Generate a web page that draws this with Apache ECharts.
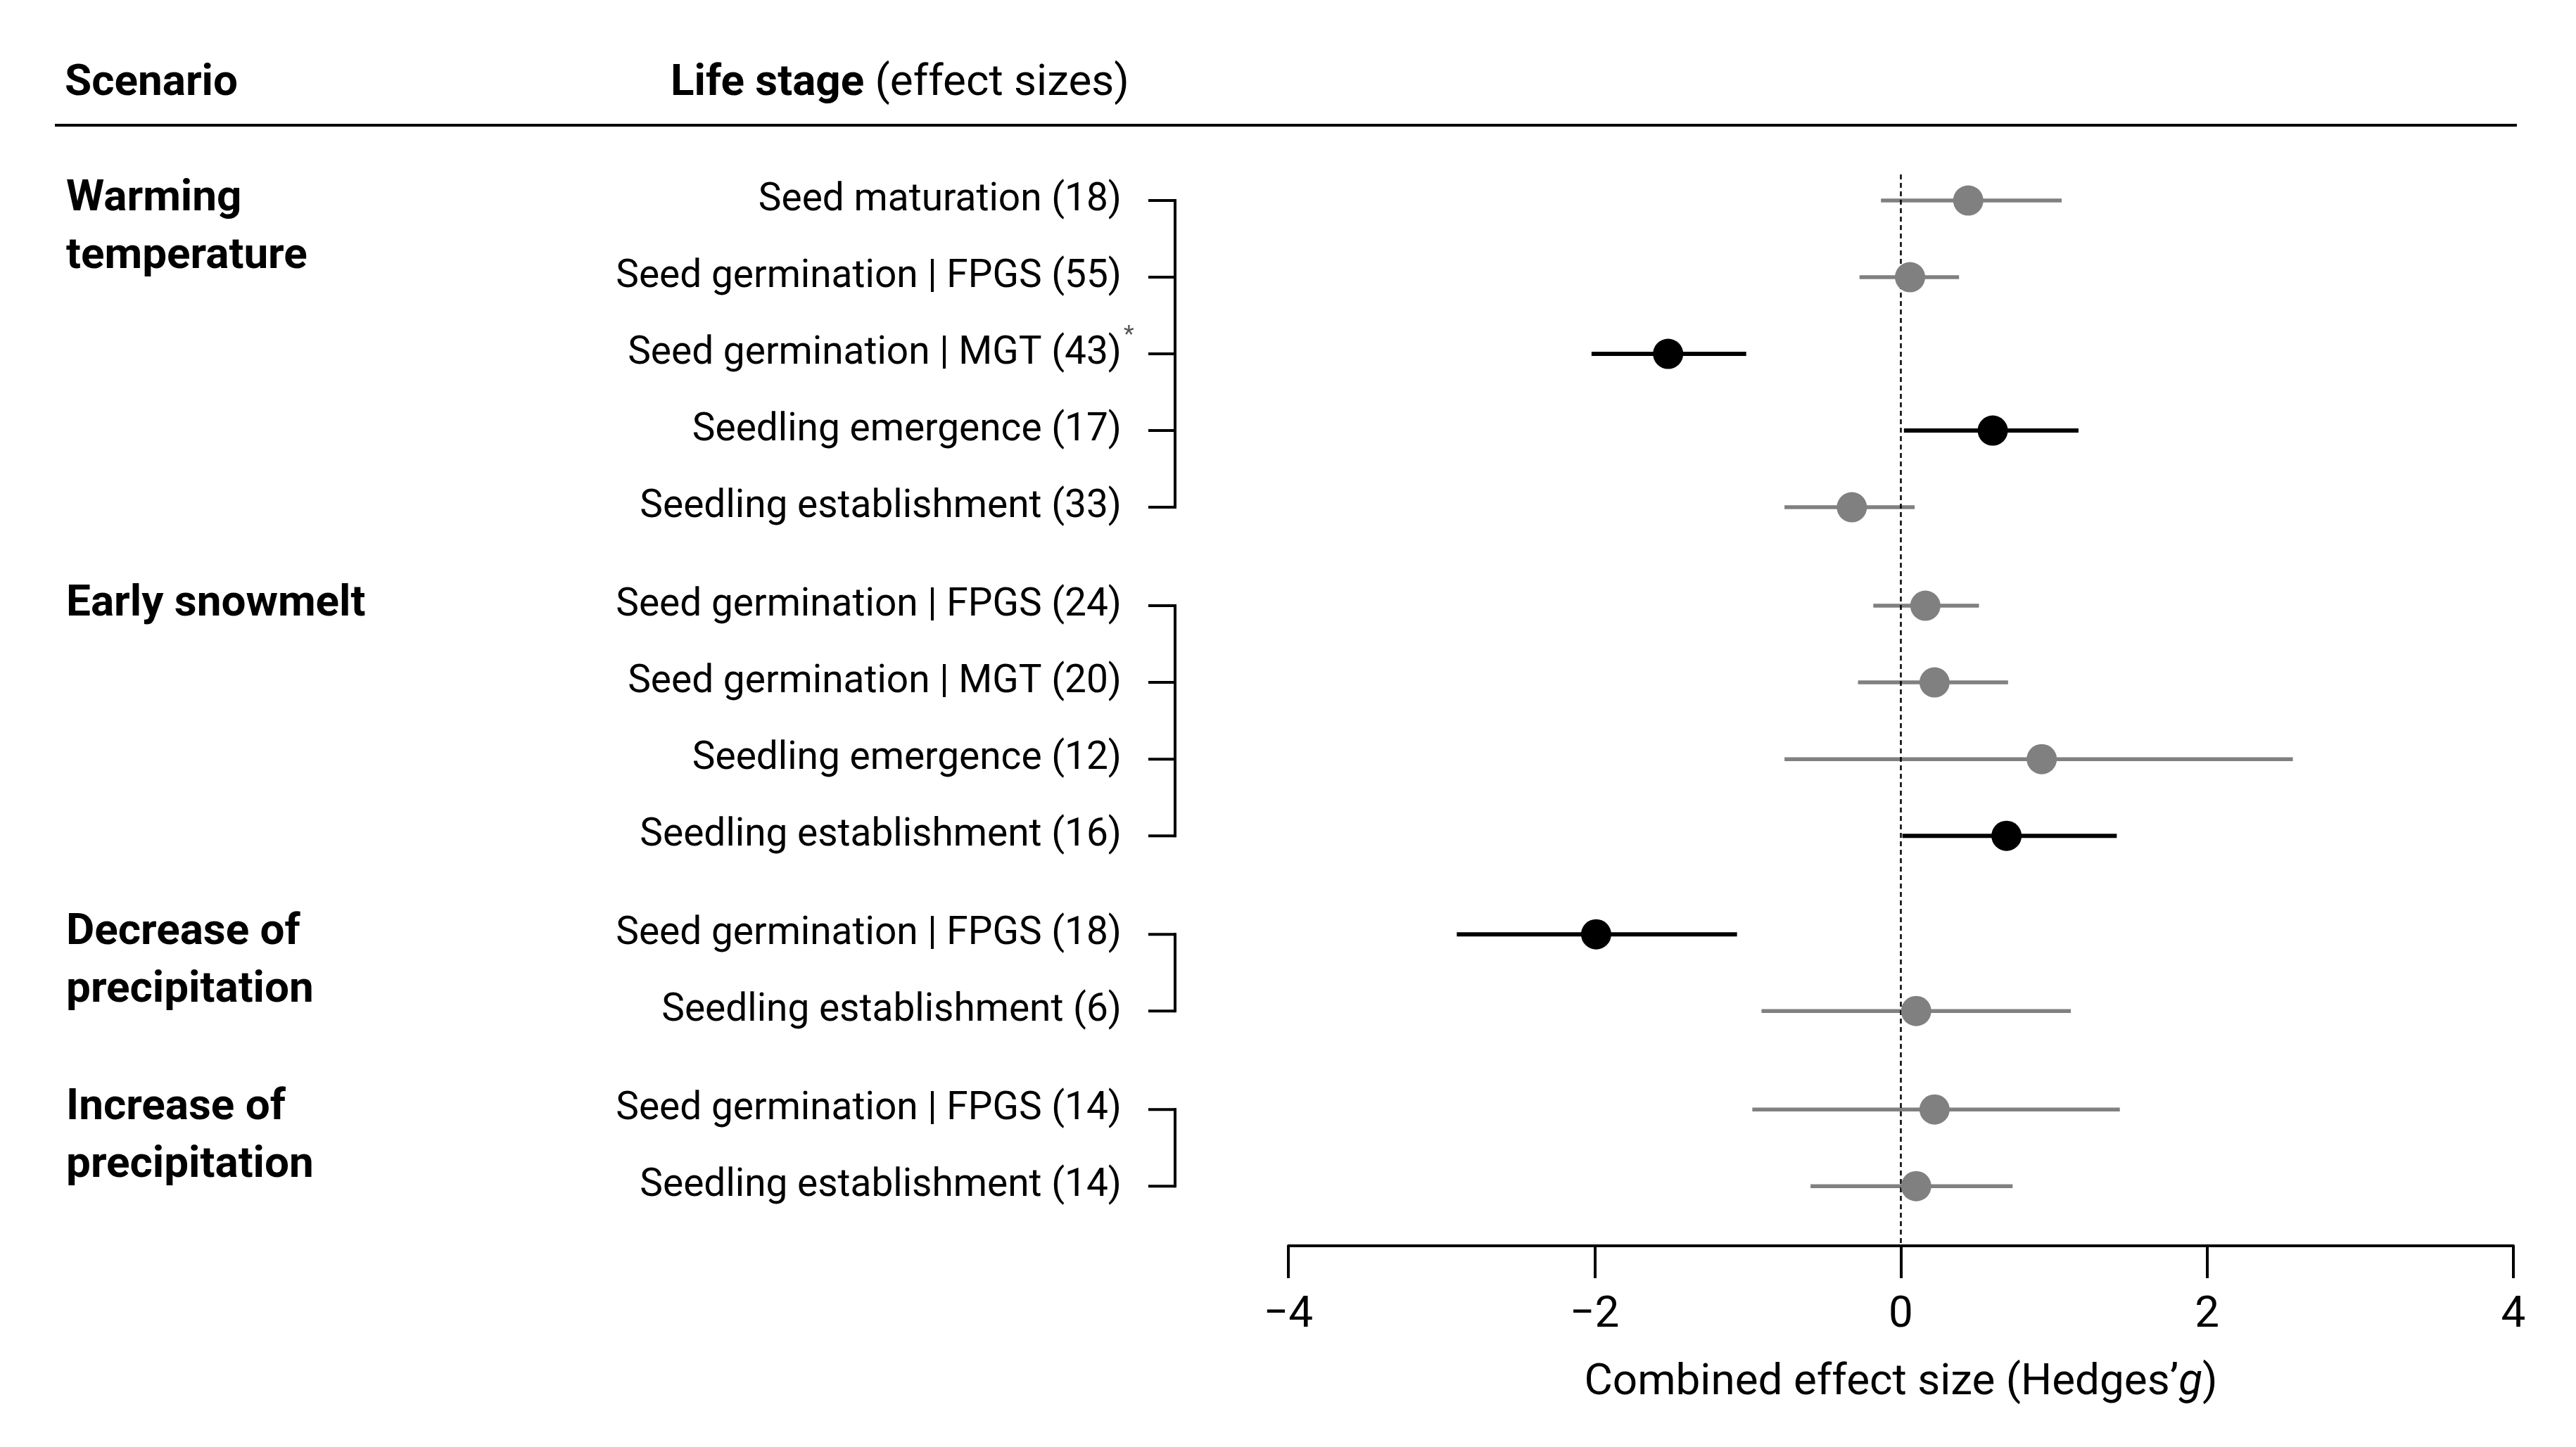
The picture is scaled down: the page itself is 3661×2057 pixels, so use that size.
<!DOCTYPE html>
<html><head><meta charset="utf-8">
<script src="https://cdn.jsdelivr.net/npm/echarts@6/dist/echarts.min.js"></script>
<style>html,body{margin:0;padding:0;background:#fff}#c{width:3661px;height:2057px}</style>
</head><body><div id="c"></div>
<script>
// ---- data ----
const scenarios = ['Warming\ntemperature', 'Early snowmelt', 'Decrease of\nprecipitation', 'Increase of\nprecipitation'];
const lifeStages = ['Seed maturation', 'Seed germination | FPGS', 'Seed germination | MGT', 'Seedling emergence', 'Seedling establishment',
  'Seed germination | FPGS', 'Seed germination | MGT', 'Seedling emergence', 'Seedling establishment',
  'Seed germination | FPGS', 'Seedling establishment',
  'Seed germination | FPGS', 'Seedling establishment'];
const effectSizes = [18, 55, 43, 17, 33, 24, 20, 12, 16, 18, 6, 14, 14];
const scenarioOf = [0, 0, 0, 0, 0, 1, 1, 1, 1, 2, 2, 3, 3];
const estimate = [0.44, 0.06, -1.52, 0.60, -0.32, 0.16, 0.22, 0.92, 0.69, -1.99, 0.10, 0.22, 0.10];
const ciLower = [-0.13, -0.27, -2.02, 0.02, -0.76, -0.18, -0.28, -0.76, 0.01, -2.90, -0.91, -0.97, -0.59];
const ciUpper = [1.05, 0.38, -1.01, 1.16, 0.09, 0.51, 0.70, 2.56, 1.41, -1.07, 1.11, 1.43, 0.73];
const significant = [0, 0, 1, 1, 0, 0, 0, 0, 1, 1, 0, 0, 0];
const flagged = [0, 0, 1, 0, 0, 0, 0, 0, 0, 0, 0, 0, 0];
const xTicks = [-4, -2, 0, 2, 4];

// ---- layout helpers ----
const GROUP_GAP = 0.284;
const rowPos = lifeStages.map((_, i) => i + GROUP_GAP * scenarioOf[i]);
const GRAY = '#808080', BLACK = '#000000';
const FONT = 'Roboto, "Liberation Sans", Arial, sans-serif';
const Y_MIN = -1, Y_MAX = 13.63;
const LABEL_RIGHT = 1594, BR_TICK = 1632, BR_X = 1670, SCEN_X = 94;

const groups = scenarios.map((s, g) => {
  const idx = scenarioOf.map((v, i) => v === g ? i : -1).filter(i => i >= 0);
  return [xTicks[0], rowPos[idx[0]], rowPos[idx[idx.length - 1]], g];
});

const chart = echarts.init(document.getElementById('c'), null, {renderer: 'canvas'});
chart.setOption({
  backgroundColor: '#ffffff',
  animation: false,
  grid: {left: 1831, right: 89, top: 176, bottom: 286, containLabel: false},
  xAxis: {
    type: 'value', min: xTicks[0], max: xTicks[xTicks.length - 1], interval: 2,
    axisLine: {onZero: false, lineStyle: {color: BLACK, width: 4}},
    axisTick: {show: true, length: 46, lineStyle: {color: BLACK, width: 4}},
    splitLine: {show: false},
    axisLabel: {margin: 68, fontSize: 62, color: BLACK, fontFamily: FONT,
      formatter: v => String(v).replace('-', '\u2212')},
    name: 'Combined effect size (Hedges\u2019{i|g})',
    nameLocation: 'middle', nameGap: 164,
    nameTextStyle: {fontSize: 62, color: BLACK, fontFamily: FONT,
      rich: {i: {fontSize: 62, fontStyle: 'italic', color: BLACK, fontFamily: FONT}}}
  },
  yAxis: {type: 'value', min: Y_MIN, max: Y_MAX, inverse: true, show: false},
  graphic: [
    {type: 'text', x: 92, y: 119, style: {text: 'Scenario', fontSize: 62, fontWeight: 'bold', fontFamily: FONT, fill: BLACK, verticalAlign: 'middle'}},
    {type: 'text', x: 953, y: 119, style: {text: '{b|Life stage}{g| (effect sizes)}', verticalAlign: 'middle',
      rich: {b: {fontSize: 62, fontWeight: 'bold', fontFamily: FONT, color: BLACK},
             g: {fontSize: 62, fontFamily: FONT, color: GRAY}}}},
    {type: 'line', shape: {x1: 78, y1: 178, x2: 3577, y2: 178}, style: {stroke: BLACK, lineWidth: 4}}
  ],
  series: [
    { // confidence intervals
      type: 'custom', z: 1, clip: false,
      data: lifeStages.map((_, i) => [ciLower[i], ciUpper[i], rowPos[i], significant[i]]),
      encode: {x: [0, 1], y: 2},
      renderItem: (params, api) => {
        const a = api.coord([api.value(0), api.value(2)]);
        const b = api.coord([api.value(1), api.value(2)]);
        const sig = api.value(3) === 1;
        return {type: 'line', shape: {x1: a[0], y1: a[1], x2: b[0], y2: b[1]},
          style: {stroke: sig ? BLACK : GRAY, lineWidth: sig ? 6 : 5.5}};
      }
    },
    { // zero reference line
      type: 'line', z: 2, symbol: 'none', silent: true,
      data: [[0, -0.34], [0, Y_MAX]],
      lineStyle: {color: BLACK, width: 2.5, type: [7, 5]}
    },
    { // point estimates
      type: 'scatter', z: 3, symbol: 'circle', symbolSize: 43,
      data: lifeStages.map((_, i) => [estimate[i], rowPos[i], significant[i]]),
      itemStyle: {color: p => p.value[2] === 1 ? BLACK : GRAY, opacity: 1}
    },
    { // life stage labels
      type: 'custom', z: 4, clip: false,
      data: lifeStages.map((_, i) => [xTicks[0], rowPos[i], i]),
      encode: {x: 0, y: 1},
      renderItem: (params, api) => {
        const i = api.value(2);
        const y = api.coord([xTicks[0], api.value(1)])[1];
        const children = [{
          type: 'text', x: LABEL_RIGHT, y: y,
          style: {text: '{n|' + lifeStages[i] + '}{c| (' + effectSizes[i] + ')}', align: 'right', verticalAlign: 'middle',
            rich: {n: {fontSize: 55, fontFamily: FONT, color: BLACK}, c: {fontSize: 55, fontFamily: FONT, color: GRAY}}}
        }];
        if (flagged[i]) children.push({type: 'text', x: LABEL_RIGHT + 3, y: y - 26,
          style: {text: '*', fontSize: 34, fontFamily: FONT, fill: '#555555', align: 'left', verticalAlign: 'middle'}});
        return {type: 'group', children: children};
      }
    },
    { // brackets
      type: 'custom', z: 4, clip: false,
      data: groups,
      encode: {x: 0, y: [1, 2]},
      renderItem: (params, api) => {
        const g = api.value(3);
        const y1 = api.coord([xTicks[0], api.value(1)])[1];
        const y2 = api.coord([xTicks[0], api.value(2)])[1];
        const children = [{type: 'line', shape: {x1: BR_X, y1: y1 - 2, x2: BR_X, y2: y2 + 2}, style: {stroke: BLACK, lineWidth: 4}}];
        rowPos.forEach((p, i) => {
          if (scenarioOf[i] !== g) return;
          const yy = api.coord([xTicks[0], p])[1];
          children.push({type: 'line', shape: {x1: BR_TICK, y1: yy, x2: BR_X, y2: yy}, style: {stroke: BLACK, lineWidth: 4}});
        });
        return {type: 'group', children: children};
      }
    },
    { // scenario labels
      type: 'custom', z: 4, clip: false,
      data: groups,
      encode: {x: 0, y: 1},
      renderItem: (params, api) => {
        const g = api.value(3);
        const y = api.coord([xTicks[0], api.value(1)])[1];
        return {type: 'text', x: SCEN_X, y: y - 43,
          style: {text: scenarios[g], fontSize: 62, fontWeight: 'bold', fontFamily: FONT, fill: BLACK,
            lineHeight: 82, align: 'left', verticalAlign: 'top'}};
      }
    }
  ]
});
</script></body></html>
